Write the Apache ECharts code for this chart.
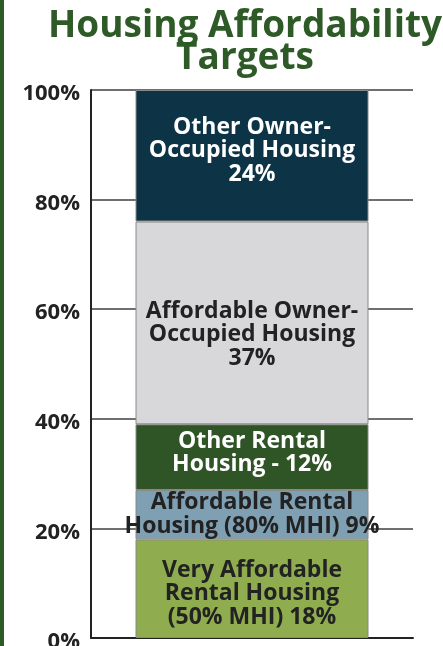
<!DOCTYPE html>
<html><head><meta charset="utf-8">
<script src="https://cdn.jsdelivr.net/npm/echarts@6/dist/echarts.min.js"></script>
<style>html,body{margin:0;padding:0;background:#fff}#c{width:443px;height:646px}</style>
</head><body><div id="c"></div>
<script>
const categories = ['Housing'];
const segmentNames = ['Very Affordable Rental Housing (50% MHI)', 'Affordable Rental Housing (80% MHI)', 'Other Rental Housing', 'Affordable Owner-Occupied Housing', 'Other Owner-Occupied Housing'];
const segmentValues = [18, 9, 12, 37, 24];
const segmentLabels = [
  'Very Affordable\nRental Housing\n(50% MHI) 18%',
  'Affordable Rental\nHousing (80% MHI) 9%',
  'Other Rental\nHousing - 12%',
  'Affordable Owner-\nOccupied Housing\n37%',
  'Other Owner-\nOccupied Housing\n24%'
];
const segmentColors = ['#8fac4f', '#7f9fb2', '#2f5426', '#d8d8da', '#0d3446'];
const labelColors = ['#222', '#222', '#fff', '#222', '#fff'];
const labelOffsets = [[0,5],[0,0],[0,-4],[0,12],[0,-5]];
const yTicks = [0, 20, 40, 60, 80, 100];

const FONT = 'Open Sans';
const chart = echarts.init(document.getElementById('c'), null, {renderer: 'canvas'});
chart.setOption({
  animation: false,
  title: {
    text: 'Housing Affordability\nTargets',
    left: 240, top: 5, textAlign: 'center',
    textStyle: {fontFamily: FONT, fontWeight: 'bold', fontSize: 37, lineHeight: 32, color: '#2e5a27'}
  },
  graphic: [{type: 'rect', left: 0, top: 0, shape: {width: 4, height: 646}, style: {fill: '#2d5a27'}}],
  grid: {left: 91, right: 30, top: 90, bottom: 8, containLabel: false, outerBoundsMode: 'none'},
  xAxis: {
    type: 'category', data: categories,
    axisLine: {lineStyle: {color: '#222', width: 2}},
    axisTick: {show: false}, axisLabel: {show: false}
  },
  yAxis: {
    type: 'value', min: 0, max: 100, interval: 20,
    axisLine: {show: true, lineStyle: {color: '#222', width: 2}},
    axisTick: {show: false},
    splitLine: {show: true, lineStyle: {color: '#6f6f6f', width: 2}},
    axisLabel: {formatter: v => yTicks.includes(v) ? v + '%' : '', margin: 11,
      verticalAlign: 'top', lineHeight: 8,
      fontFamily: FONT, fontWeight: 'bold', fontSize: 22, color: '#222'}
  },
  series: segmentValues.map((v, i) => ({
    type: 'bar', stack: 'total', name: segmentNames[i], barWidth: 233,
    data: [v],
    itemStyle: {color: segmentColors[i], borderColor: '#8a8a8a', borderWidth: 1},
    label: {show: true, position: 'inside', offset: labelOffsets[i], formatter: segmentLabels[i],
      fontFamily: FONT, fontWeight: 'bold', fontSize: 23, lineHeight: 23.5, color: labelColors[i], align: 'center'}
  }))
});
</script></body></html>
